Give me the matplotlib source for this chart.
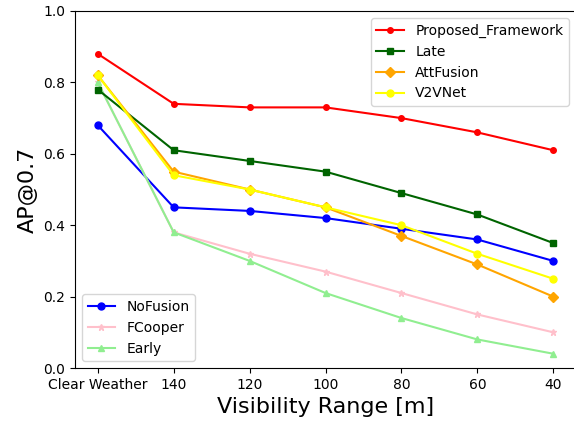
import matplotlib
matplotlib.use("Agg")
import matplotlib.pyplot as plt

# x axis categories
ranges = ["Clear Weather", "140", "120", "100", "80", "60", "40"]

# AP@0.7 per method
proposed = [0.88, 0.74, 0.73, 0.73, 0.70, 0.66, 0.61]
late = [0.78, 0.61, 0.58, 0.55, 0.49, 0.43, 0.35]
attfusion = [0.82, 0.55, 0.50, 0.45, 0.37, 0.29, 0.20]
v2vnet = [0.82, 0.54, 0.50, 0.45, 0.40, 0.32, 0.25]
nofusion = [0.68, 0.45, 0.44, 0.42, 0.39, 0.36, 0.30]
fcooper = [0.80, 0.38, 0.32, 0.27, 0.21, 0.15, 0.10]
early = [0.80, 0.38, 0.30, 0.21, 0.14, 0.08, 0.04]

fig = plt.figure(figsize=(5.74, 4.22), dpi=100)
ax = fig.add_axes([75/574, 54/422, 501/574, 357/422])
x = list(range(len(ranges)))

# lower-left group
l_nf, = ax.plot(x, nofusion, color="blue", marker="o", markersize=5, label="NoFusion")
l_fc, = ax.plot(x, fcooper, color="pink", marker="*", markersize=5, label="FCooper")
l_ea, = ax.plot(x, early, color="lightgreen", marker="^", markersize=5, label="Early")
# upper-right group
l_la, = ax.plot(x, late, color="darkgreen", marker="s", markersize=5, label="Late")
l_af, = ax.plot(x, attfusion, color="orange", marker="D", markersize=5, label="AttFusion")
l_v2, = ax.plot(x, v2vnet, color="yellow", marker="o", markersize=5, label="V2VNet")
l_pr, = ax.plot(x, proposed, color="red", marker="o", markersize=4, label="Proposed_Framework")

ax.set_xticks(x)
ax.set_xticklabels(ranges)
ax.set_ylim(0, 1.0)
ax.set_xlabel("Visibility Range [m]", fontsize=16)
ax.set_ylabel("AP@0.7", fontsize=16)

leg1 = ax.legend(handles=[l_pr, l_la, l_af, l_v2], loc="upper right")
ax.add_artist(leg1)
ax.legend(handles=[l_nf, l_fc, l_ea], loc="lower left")

fig.savefig("out.png", dpi=100)
